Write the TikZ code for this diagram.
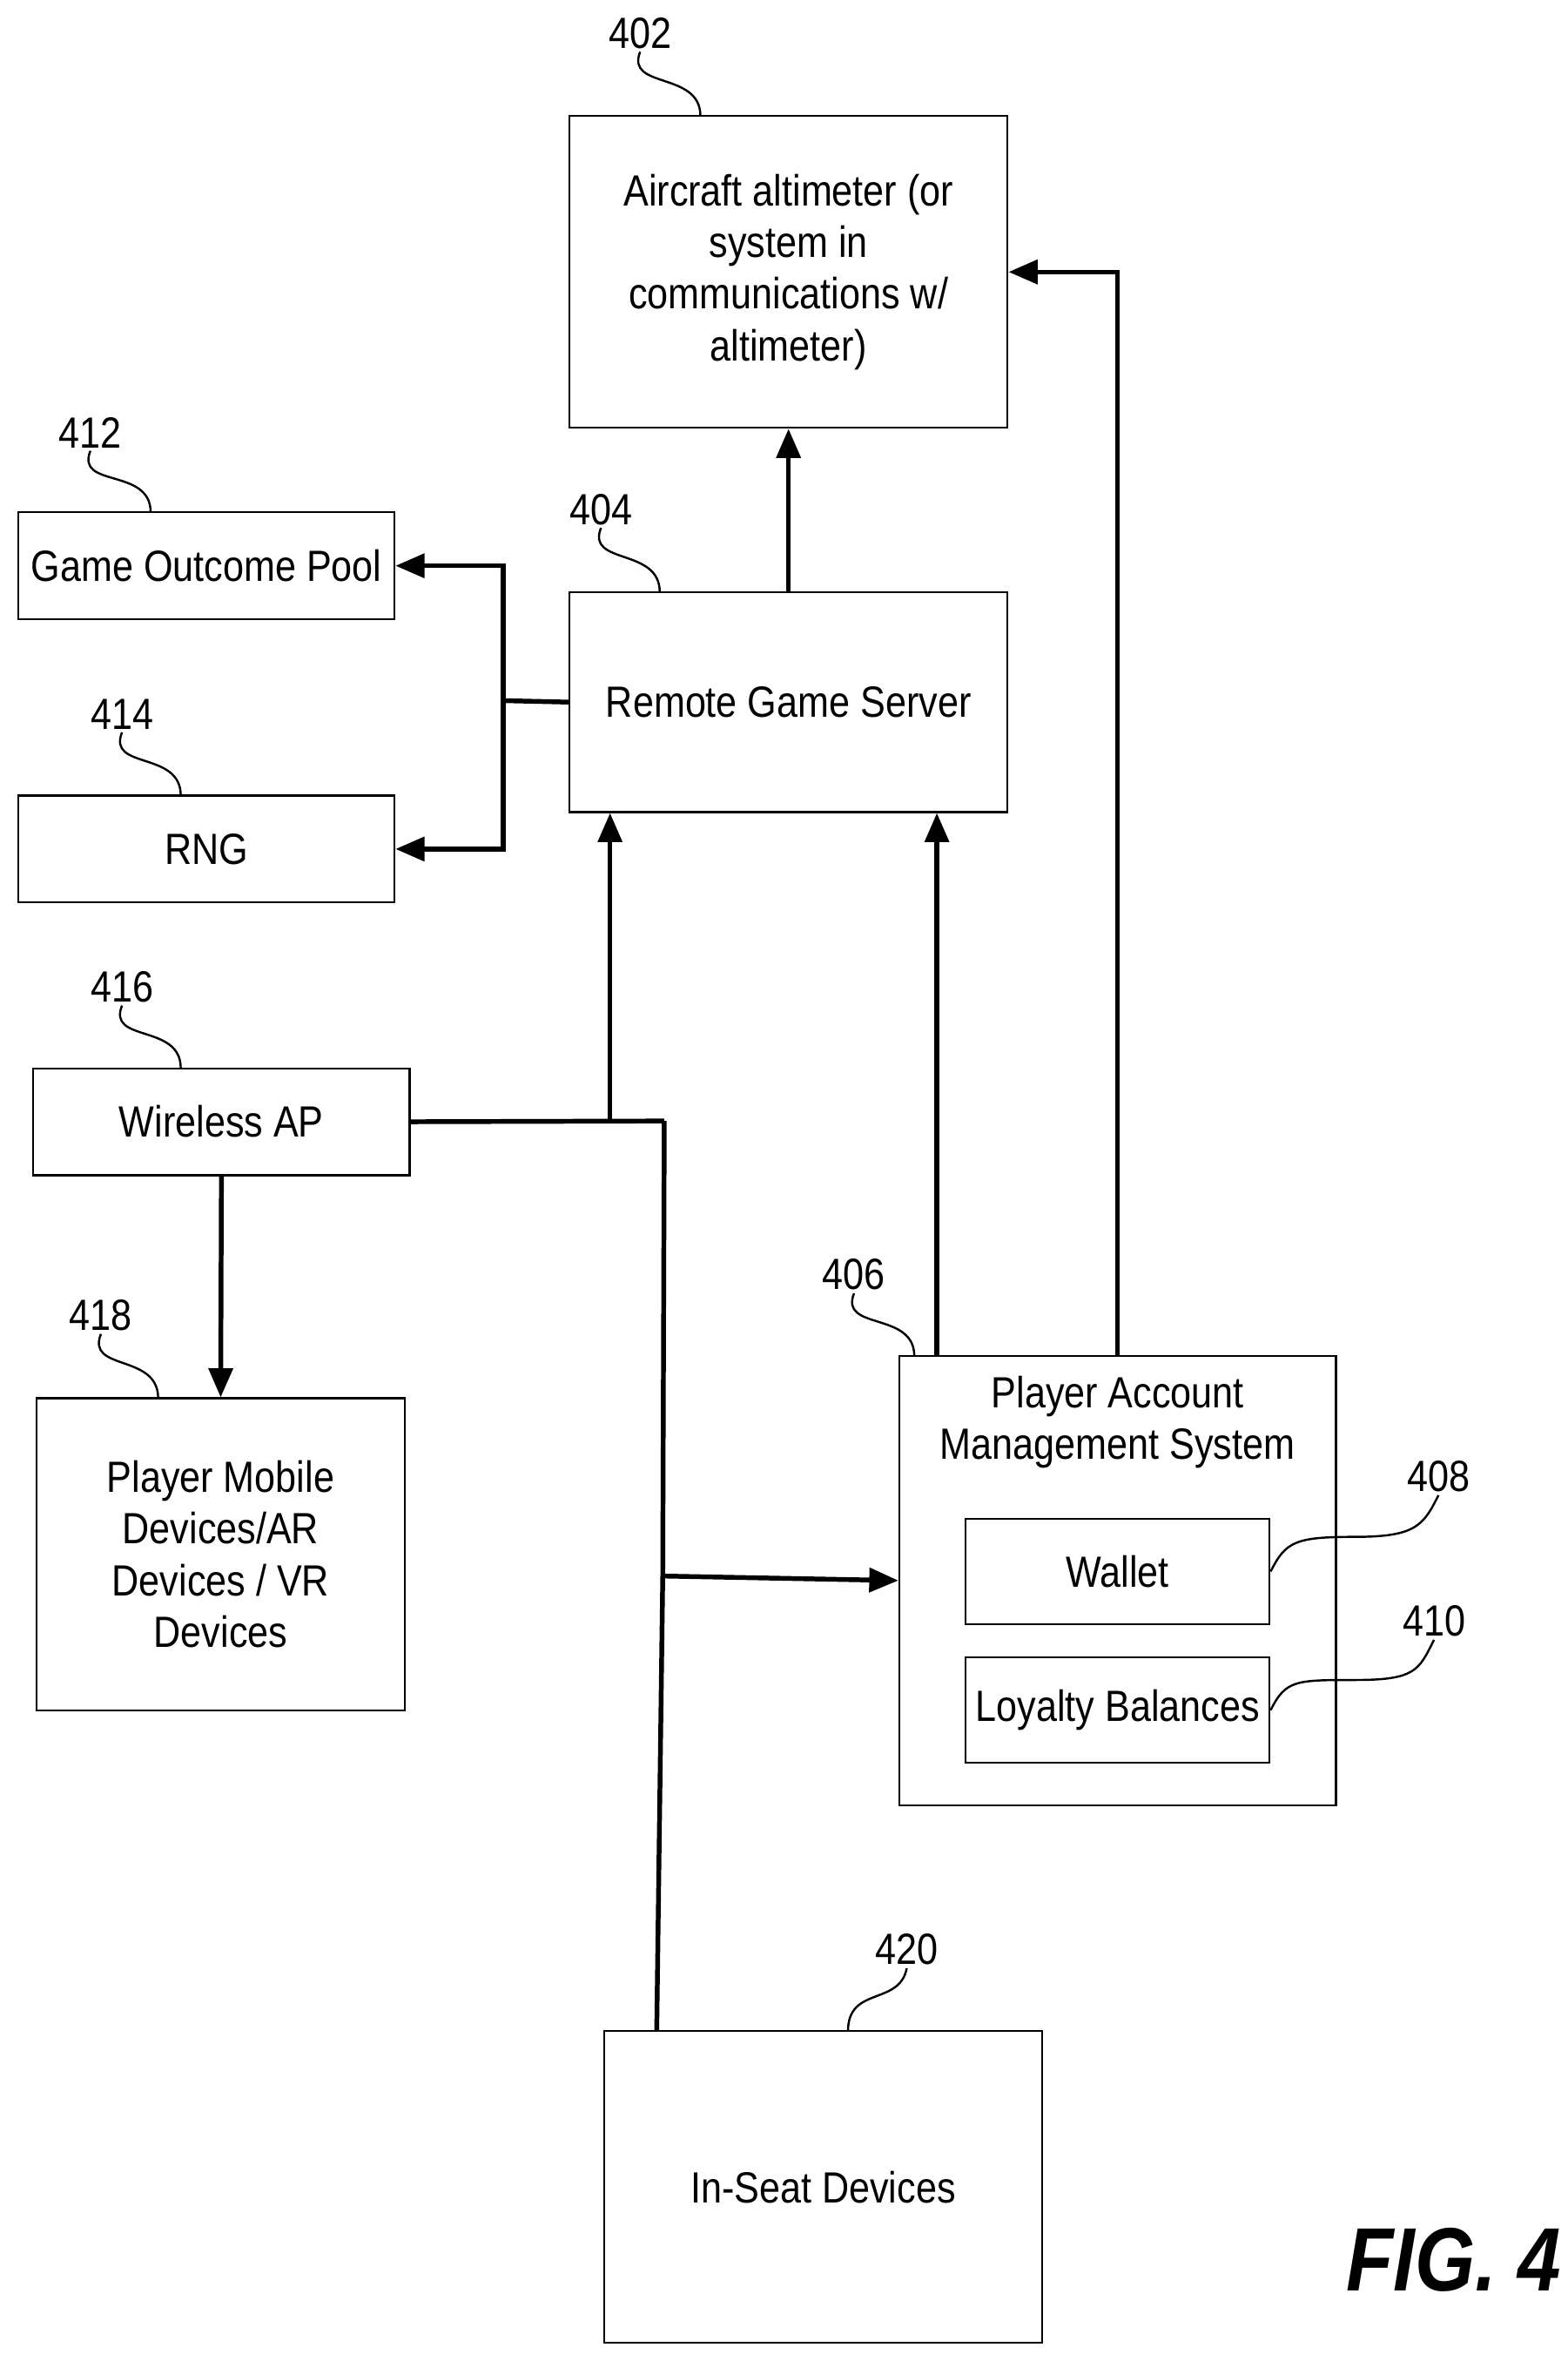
\documentclass[tikz,border=0pt]{standalone}
\usepackage{fontspec}
\setmainfont{Liberation Sans}[FakeStretch=0.86]
\usetikzlibrary{arrows.meta}

\tikzset{
  box/.style={draw, line width=0.7pt, align=center, inner sep=0pt,
    font=\fontsize{16.5}{19.5}\selectfont},
  link/.style={line width=1.8pt},
  arr/.style={link, -{Triangle[length=11pt,width=9pt]}},
  refnum/.style={font=\fontsize{16.5}{20}\selectfont, inner sep=1pt},
  refline/.style={line width=0.8pt}
}

\begin{document}
\begin{tikzpicture}[x=0.02cm, y=-0.02cm]

\useasboundingbox (0,0) rectangle (1041,1567);

% Boxes
\node[box, minimum width=5.82cm, minimum height=4.14cm] (alt) at (523.5,180.5)
  {Aircraft altimeter (or\\system in\\communications w/\\altimeter)};
\node[box, minimum width=5.82cm, minimum height=2.92cm] (server) at (523.5,466) {Remote Game Server};
\node[box, minimum width=5.0cm, minimum height=1.42cm] (pool) at (137,375.5) {Game Outcome Pool};
\node[box, minimum width=5.0cm, minimum height=1.42cm] (rng) at (137,563.5) {RNG};
\node[box, minimum width=5.0cm, minimum height=1.42cm] (ap) at (147,744.5) {Wireless AP};
\node[box, minimum width=4.9cm, minimum height=4.14cm] (mobile) at (146.5,1031.5)
  {Player Mobile\\Devices/AR\\Devices / VR\\Devices};
\node[box, minimum width=5.8cm, minimum height=5.96cm] (pams) at (742,1049) {};
\node[box, draw=none] (pamstext) at (742,944) {Player Account\\Management System};
\node[box, minimum width=4.04cm, minimum height=1.4cm] (wallet) at (742,1043) {Wallet};
\node[box, minimum width=4.04cm, minimum height=1.4cm] (loyal) at (742,1135) {Loyalty Balances};
\node[box, minimum width=5.82cm, minimum height=4.14cm] (seat) at (546.5,1451.5) {In-Seat Devices};

\node[font=\fontsize{34}{34}\selectfont\bfseries\itshape] (fig) at (965,1500) {FIG. 4};

% Reference numerals
\node[refnum] (l402) at (425,22) {402};
\node[refnum] (l404) at (399,338) {404};
\node[refnum] (l412) at (60,287) {412};
\node[refnum] (l414) at (81,474) {414};
\node[refnum] (l416) at (81,655) {416};
\node[refnum] (l418) at (67,873) {418};
\node[refnum] (l406) at (567,846) {406};
\node[refnum] (l408) at (955,980) {408};
\node[refnum] (l410) at (952,1076) {410};
\node[refnum] (l420) at (602,1294) {420};

\draw[refline] (l402.south) .. controls +(-10,25) and +(0,-30) .. (465,77);
\draw[refline] (l404.south) .. controls +(-10,25) and +(0,-30) .. (438,393);
\draw[refline] (l412.south) .. controls +(-10,25) and +(0,-30) .. (100,340);
\draw[refline] (l414.south) .. controls +(-10,25) and +(0,-30) .. (120,528);
\draw[refline] (l416.south) .. controls +(-10,25) and +(0,-30) .. (120,709);
\draw[refline] (l418.south) .. controls +(-10,25) and +(0,-30) .. (105,928);
\draw[refline] (l406.south) .. controls +(-10,25) and +(0,-30) .. (607,900);
\draw[refline] (l408.south) .. controls +(-10,20) and +(40,0) .. (900,1020) .. controls +(-40,0) and +(10,-20) .. (wallet.east);
\draw[refline] (l410.south) .. controls +(-10,20) and +(40,0) .. (900,1115) .. controls +(-40,0) and +(10,-20) .. (loyal.east);
\draw[refline] (l420.south) .. controls +(-5,25) and +(0,-30) .. (563,1348);

% Connectors
\draw[arr] (pams.north -| 742,0) |- (alt.east);
\draw[arr] (server.north) -- (alt.south);
\draw[arr] (pams.north -| 622,0) -- (server.south -| 622,0);

\coordinate (split) at (334,465);
\draw[link] (server.west) -- (split);
\draw[arr] (split) |- (pool.east);
\draw[arr] (split) |- (rng.east);

\coordinate (bus) at (441,744);
\coordinate (tap) at (440,1046);
\draw[link] (ap.east) -- (bus);
\draw[arr] (ap.east -| 405,0) -- (server.south -| 405,0);
\draw[link] (bus) -- (tap) -- (seat.north -| 436,0);
\draw[arr] (tap) -- (pams.west);
\draw[arr] (ap.south) -- (mobile.north);

\end{tikzpicture}
\end{document}
